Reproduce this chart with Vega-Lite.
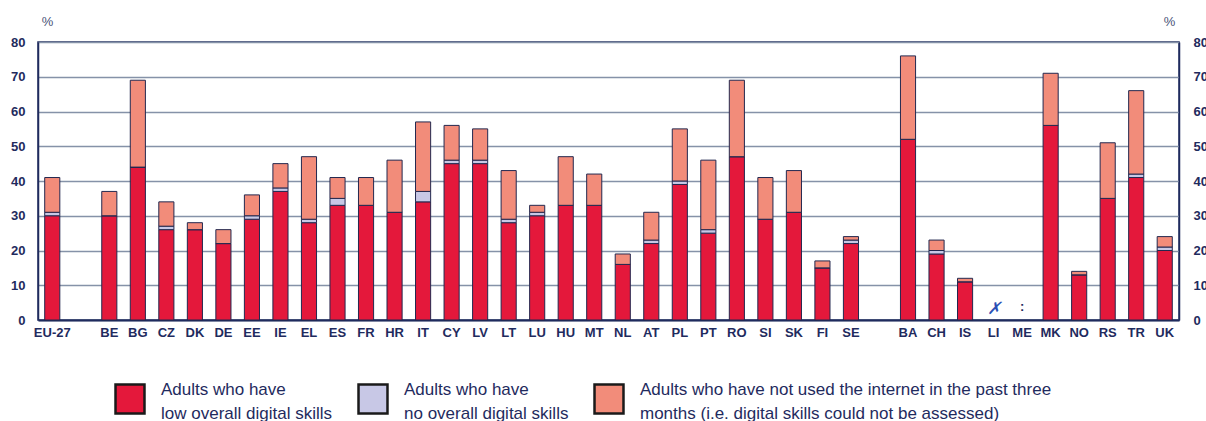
{
  "$schema": "https://vega.github.io/schema/vega-lite/v6.json",
  "width": 1141,
  "height": 278,
  "autosize": {"type": "none"},
  "padding": {"left": 38, "top": 42, "right": 27, "bottom": 101},
  "background": "white",
  "config": {
    "view": {"stroke": "#1f2b5e", "strokeWidth": 1.5},
    "font": "Liberation Sans",
    "style": {"guide-label": {"lineHeight": 24}}
  },
  "datasets": {
    "bars": [
      {"c": "EU-27", "low": 30, "no": 1, "nu": 10},
      {"c": "BE", "low": 30, "no": 0, "nu": 7},
      {"c": "BG", "low": 44, "no": 0, "nu": 25},
      {"c": "CZ", "low": 26, "no": 1, "nu": 7},
      {"c": "DK", "low": 26, "no": 0, "nu": 2},
      {"c": "DE", "low": 22, "no": 0, "nu": 4},
      {"c": "EE", "low": 29, "no": 1, "nu": 6},
      {"c": "IE", "low": 37, "no": 1, "nu": 7},
      {"c": "EL", "low": 28, "no": 1, "nu": 18},
      {"c": "ES", "low": 33, "no": 2, "nu": 6},
      {"c": "FR", "low": 33, "no": 0, "nu": 8},
      {"c": "HR", "low": 31, "no": 0, "nu": 15},
      {"c": "IT", "low": 34, "no": 3, "nu": 20},
      {"c": "CY", "low": 45, "no": 1, "nu": 10},
      {"c": "LV", "low": 45, "no": 1, "nu": 9},
      {"c": "LT", "low": 28, "no": 1, "nu": 14},
      {"c": "LU", "low": 30, "no": 1, "nu": 2},
      {"c": "HU", "low": 33, "no": 0, "nu": 14},
      {"c": "MT", "low": 33, "no": 0, "nu": 9},
      {"c": "NL", "low": 16, "no": 0, "nu": 3},
      {"c": "AT", "low": 22, "no": 1, "nu": 8},
      {"c": "PL", "low": 39, "no": 1, "nu": 15},
      {"c": "PT", "low": 25, "no": 1, "nu": 20},
      {"c": "RO", "low": 47, "no": 0, "nu": 22},
      {"c": "SI", "low": 29, "no": 0, "nu": 12},
      {"c": "SK", "low": 31, "no": 0, "nu": 12},
      {"c": "FI", "low": 15, "no": 0, "nu": 2},
      {"c": "SE", "low": 22, "no": 1, "nu": 1},
      {"c": "BA", "low": 52, "no": 0, "nu": 24},
      {"c": "CH", "low": 19, "no": 1, "nu": 3},
      {"c": "IS", "low": 11, "no": 0, "nu": 1},
      {"c": "MK", "low": 56, "no": 0, "nu": 15},
      {"c": "NO", "low": 13, "no": 0, "nu": 1},
      {"c": "RS", "low": 35, "no": 0, "nu": 16},
      {"c": "TR", "low": 41, "no": 1, "nu": 24},
      {"c": "UK", "low": 20, "no": 1, "nu": 3}
    ]
  },
  "layer": [
    {
      "data": {"name": "bars"},
      "transform": [{"fold": ["low", "no", "nu"], "as": ["k", "v"]}],
      "mark": {"type": "bar", "stroke": "#23284f", "strokeWidth": 1},
      "encoding": {
        "x": {
          "field": "c", "type": "nominal", "sort": null,
          "scale": {
            "domain": ["EU-27", "gap1", "BE", "BG", "CZ", "DK", "DE", "EE", "IE", "EL", "ES", "FR", "HR", "IT", "CY", "LV", "LT", "LU", "HU", "MT", "NL", "AT", "PL", "PT", "RO", "SI", "SK", "FI", "SE", "gap2", "BA", "CH", "IS", "LI", "ME", "MK", "NO", "RS", "TR", "UK"],
            "paddingInner": 0.47, "paddingOuter": 0.235
          },
          "axis": {
            "title": null,
            "labelExpr": "indexof(datum.value, 'gap') == 0 ? '' : datum.value",
            "labelAngle": 0, "labelFontWeight": "bold", "labelFontSize": 13,
            "labelColor": "#1f2b5e", "ticks": false, "labelPadding": 6,
            "domainColor": "#1f2b5e", "domainWidth": 2
          }
        },
        "y": {
          "field": "v", "type": "quantitative", "stack": "zero",
          "scale": {"domain": [0, 80]},
          "axis": {
            "orient": "left", "values": [0, 10, 20, 30, 40, 50, 60, 70, 80],
            "title": "%", "titleAngle": 0, "titleX": 9, "titleY": -17,
            "titleAlign": "center", "titleBaseline": "alphabetic",
            "titleFontWeight": "normal", "titleFontSize": 13, "titleColor": "#4a5378",
            "labelFontWeight": "bold", "labelFontSize": 13, "labelColor": "#1f2b5e",
            "labelPadding": 13, "ticks": false,
            "domainColor": "#1f2b5e", "domainWidth": 1.5,
            "grid": true, "gridColor": "#8592a8", "gridWidth": 1.5
          }
        },
        "color": {
          "field": "k", "type": "nominal",
          "scale": {"domain": ["low", "no", "nu"], "range": ["#e4183b", "#c8c8e6", "#f28c7a"]},
          "legend": {
            "orient": "none", "legendX": 76, "legendY": 341,
            "direction": "horizontal", "columns": 3, "title": null,
            "symbolType": "square", "symbolSize": 840,
            "symbolStrokeColor": "#1a1a1a", "symbolStrokeWidth": 2.5,
            "labelFont": "Liberation Sans", "labelFontSize": 17,
            "labelBaseline": "bottom",
            "labelColor": "#1f2b5e", "labelOffset": 15, "labelLimit": 500,
            "columnPadding": 20,
            "labelExpr": "datum.value == 'low' ? ['Adults who have', 'low overall digital skills'] : datum.value == 'no' ? ['Adults who have', 'no overall digital skills'] : ['Adults who have not used the internet in the past three', 'months (i.e. digital skills could not be assessed)']"
          }
        },
        "order": {"field": "k", "sort": "ascending"}
      }
    },
    {
      "data": {"values": [{"c": "LI", "note": "✗", "v": 0}]},
      "mark": {"type": "text", "baseline": "bottom", "dy": -2, "fontSize": 17, "fontStyle": "italic", "color": "#2b4fb5"},
      "encoding": {
        "x": {"field": "c", "type": "nominal"},
        "y": {
          "field": "v", "type": "quantitative",
          "axis": {
            "orient": "right", "values": [0, 10, 20, 30, 40, 50, 60, 70, 80],
            "title": "%", "titleAngle": 0, "titleX": -10, "titleY": -17,
            "titleAlign": "center", "titleBaseline": "alphabetic",
            "titleFontWeight": "normal", "titleFontSize": 13, "titleColor": "#4a5378",
            "labelFontWeight": "bold", "labelFontSize": 13, "labelColor": "#1f2b5e",
            "labelPadding": 14, "ticks": false,
            "domainColor": "#1f2b5e", "domainWidth": 1.5, "grid": false
          }
        },
        "text": {"field": "note"}
      }
    },
    {
      "data": {"values": [{"c": "ME", "note": ":", "v": 0}]},
      "mark": {"type": "text", "baseline": "bottom", "dy": -6, "fontSize": 13, "fontWeight": "bold", "color": "#1f2b5e"},
      "encoding": {
        "x": {"field": "c", "type": "nominal"},
        "y": {"field": "v", "type": "quantitative", "axis": null},
        "text": {"field": "note"}
      }
    }
  ],
  "resolve": {"axis": {"y": "independent"}}
}
